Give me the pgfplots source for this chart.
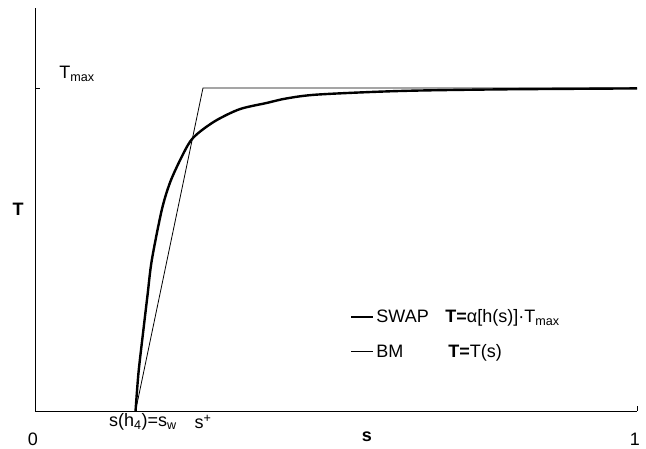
\documentclass[border=0pt]{standalone}
\usepackage{pgfplots}
\pgfplotsset{compat=1.18}
\usepackage{fontspec}
\setmainfont{Liberation Sans}
\begin{document}
\begin{tikzpicture}[x=1pt,y=1pt]
\path[use as bounding box] (-35,-37) rectangle (611,411);
\begin{axis}[
  at={(0pt,0pt)}, anchor=origin,
  scale only axis, width=602pt, height=403pt,
  xmin=0, xmax=1, ymin=0, ymax=1.248,
  axis x line=bottom, axis y line=left,
  axis line style={-, line width=0.9pt},
  xtick={0,1}, xticklabels={}, ytick={1}, yticklabels={},
  major tick length=5pt, tick align=inside,
  tick style={line width=0.6pt, black},
  clip=false,
  legend style={at={(0.523,0.257)}, anchor=north west, draw=none, fill=none,
    font=\fontsize{18}{21}\selectfont, row sep=16pt, inner sep=0pt},
  legend cell align=left,
  legend image code/.code={\draw[#1] (0pt,0pt) -- (22pt,0pt);},
]
\addplot[black, line width=2.4pt, smooth, tension=0.5] coordinates {
(0.167,0) (0.172,0.12) (0.180,0.25) (0.187,0.36) (0.194,0.467)
(0.2105,0.622) (0.224,0.706) (0.241,0.777) (0.2575,0.834) (0.274,0.865)
(0.302,0.901) (0.3405,0.935) (0.385,0.954) (0.418,0.968) (0.470,0.980)
(0.606,0.991) (0.772,0.996) (1.0,0.999)};
\addlegendentry{\makebox[69pt][l]{SWAP}\textbf{T=}α[h(s)]·T\textsubscript{max}}
\addplot[black, line width=0.8pt] coordinates {(0.167,0) (0.279,1) (1,1)};
\addlegendentry{\makebox[72pt][l]{BM}\textbf{T=}T(s)}
\end{axis}
\begin{scope}[font=\fontsize{18}{21}\selectfont]
\node at (-2,-28) {0};
\node at (600,-28) {1};
\node at (332,-26) {\textbf{s}};
\node at (-17,202) {\textbf{T}};
\node at (42,337) {T\textsubscript{max}};
\node at (108,-11) {s(h\textsubscript{4})=s\textsubscript{w}};
\node at (168,-11) {s\textsuperscript{+}};
\end{scope}
\end{tikzpicture}
\end{document}
